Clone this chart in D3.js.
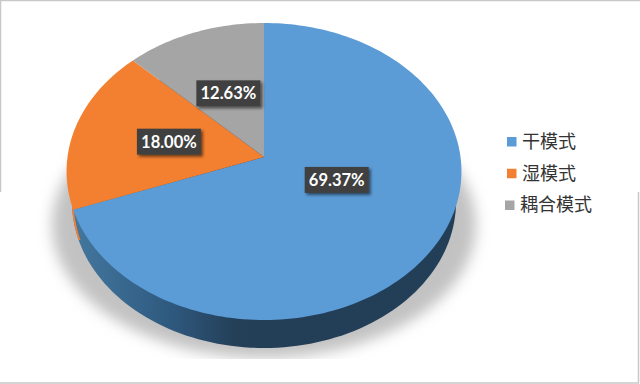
<!DOCTYPE html>
<html>
<head>
<meta charset="utf-8">
<script src="https://cdn.jsdelivr.net/npm/d3@7"></script>
<style>
  html, body { margin: 0; padding: 0; background: #fff; }
  svg { display: block; }
</style>
</head>
<body>
<svg id="chart" width="640" height="384"></svg>
<script>
// data -----------------------------------------------------------------------
const categories = ['干模式', '湿模式', '耦合模式'];
const shares = [69.37, 18.00, 12.63];
const colors = ['#5b9bd6', '#f38030', '#a5a5a5'];

// label distance from the apex, as a fraction of the radius
const labelRadius = [0.44, 0.5, 0.49];
const labelNudge = [-15, 0, 0];

const svg = d3.select('#chart');
const defs = svg.append('defs');

// the pie is tilted, so the unit circle goes through a perspective projection
const apex = { x: 264, y: 157 };
const tilt = -0.0976;
const xScale = d3.scaleLinear().domain([0, 1]).range([0, 196.5]);
const yScale = d3.scaleLinear().domain([0, 1]).range([0, 147.1]);

function project(angle, r) {
    const u = Math.sin(angle) * r;
    const v = -Math.cos(angle) * r;
    const w = 1 + tilt * v;
    return [apex.x + xScale(u) / w, apex.y + yScale(v) / w];
}

const pie = d3.pie().sort(null).value(d => d);
const slices = pie(shares);
const line = d3.line();

function slicePath(d) {
    const steps = Math.ceil((d.endAngle - d.startAngle) * 40);
    const rim = d3.range(steps + 1).map(i =>
        project(d.startAngle + (d.endAngle - d.startAngle) * i / steps, 1));
    return line([[apex.x, apex.y], ...rim]) + 'Z';
}

// bottom rim of the wall, a little narrower than the top
const wall = { cx: 264, cy: 202, rx: 192, ry: 146 };
function wallPath(dx) {
    const pts = d3.range(0, 361, 2).map(a => [
        wall.cx + dx + wall.rx * Math.cos(a * Math.PI / 180),
        wall.cy + wall.ry * Math.sin(a * Math.PI / 180)
    ]);
    return line(pts) + 'Z';
}

// gradients and filters --------------------------------------------------------
const wallGrad = defs.append('linearGradient')
    .attr('id', 'wall-grad')
    .attr('gradientUnits', 'userSpaceOnUse')
    .attr('x1', 72).attr('x2', 264).attr('y1', 0).attr('y2', 0);
wallGrad.append('stop').attr('offset', '0').attr('stop-color', '#44789f');
wallGrad.append('stop').attr('offset', '0.5').attr('stop-color', '#2f5a80');
wallGrad.append('stop').attr('offset', '0.85').attr('stop-color', '#243f58');
wallGrad.append('stop').attr('offset', '1').attr('stop-color', '#233f58');

const blur = defs.append('filter').attr('id', 'soft')
    .attr('x', '-10%').attr('y', '-10%').attr('width', '120%').attr('height', '120%');
blur.append('feGaussianBlur').attr('stdDeviation', 7);

const boxShadow = defs.append('filter').attr('id', 'box-shadow')
    .attr('x', '-20%').attr('y', '-30%').attr('width', '140%').attr('height', '170%');
boxShadow.append('feDropShadow')
    .attr('dx', 2).attr('dy', 2).attr('stdDeviation', 1.5)
    .attr('flood-color', '#000').attr('flood-opacity', 0.55);

defs.append('clipPath').attr('id', 'shadow-clip')
    .append('rect').attr('x', 0).attr('y', 0).attr('width', 640).attr('height', 359);

// shadow on the ground ---------------------------------------------------------
svg.append('g').attr('clip-path', 'url(#shadow-clip)')
    .append('ellipse')
    .attr('cx', 264).attr('cy', 225)
    .attr('rx', 212).attr('ry', 133)
    .attr('fill', '#c2c2c2')
    .attr('filter', 'url(#soft)');

// side wall --------------------------------------------------------------------
svg.append('path')
    .attr('d', wallPath(0))
    .attr('fill', 'url(#wall-grad)');

// thin strip of the orange slice's wall on the far left
defs.append('clipPath').attr('id', 'orange-wall-clip')
    .append('rect').attr('x', 60).attr('y', 205).attr('width', 40).attr('height', 35);
svg.append('path')
    .attr('d', wallPath(0))
    .attr('fill', colors[1])
    .attr('clip-path', 'url(#orange-wall-clip)');
svg.append('path')
    .attr('d', wallPath(1.8))
    .attr('fill', 'url(#wall-grad)')
    .attr('clip-path', 'url(#orange-wall-clip)');

// top of the pie -----------------------------------------------------------------
svg.append('g').selectAll('path')
    .data(slices)
    .enter()
    .append('path')
    .attr('d', slicePath)
    .attr('fill', (d, i) => colors[i]);

// value labels -------------------------------------------------------------------
const labelW = 64;
const labelH = 26;
const labels = svg.append('g').selectAll('g')
    .data(slices)
    .enter()
    .append('g')
    .attr('transform', (d, i) => {
        const p = project((d.startAngle + d.endAngle) / 2, labelRadius[i]);
        return `translate(${p[0]},${p[1] + labelNudge[i]})`;
    });

labels.append('rect')
    .attr('x', -labelW / 2).attr('y', -labelH / 2)
    .attr('width', labelW).attr('height', labelH)
    .attr('fill', '#404040')
    .attr('filter', 'url(#box-shadow)');

labels.append('text')
    .attr('text-anchor', 'middle')
    .attr('dy', '0.36em')
    .attr('fill', '#fff')
    .attr('font-family', 'Lato, "Open Sans", sans-serif')
    .attr('font-weight', 700)
    .attr('font-size', 16.5)
    .text(d => d3.format('.2f')(d.value) + '%');

// legend -------------------------------------------------------------------------
const legendY = d3.scalePoint().domain(categories).range([141.5, 205]);
const legend = svg.append('g').selectAll('g')
    .data(categories)
    .enter()
    .append('g')
    .attr('transform', d => `translate(${d === '耦合模式' ? 505 : 507},${legendY(d)})`);

legend.append('rect')
    .attr('x', 0).attr('y', -4.5)
    .attr('width', 9.5).attr('height', 9.5)
    .attr('fill', (d, i) => colors[i]);

legend.append('text')
    .attr('x', 15)
    .attr('dy', '0.36em')
    .attr('fill', '#333')
    .attr('font-family', '"Noto Sans CJK SC", sans-serif')
    .attr('font-size', 18)
    .text(d => d);

// frame: only part of the original border survives -------------------------------
const frame = [
    [[0.5, 192], [0.5, 0.5], [640, 0.5]],
    [[638.5, 192], [638.5, 383], [0, 383]]
];
svg.append('g').selectAll('path')
    .data(frame)
    .enter()
    .append('path')
    .attr('d', d => line(d))
    .attr('fill', 'none')
    .attr('stroke', '#c8c8c8')
    .attr('stroke-width', 1.5);
</script>
</body>
</html>
